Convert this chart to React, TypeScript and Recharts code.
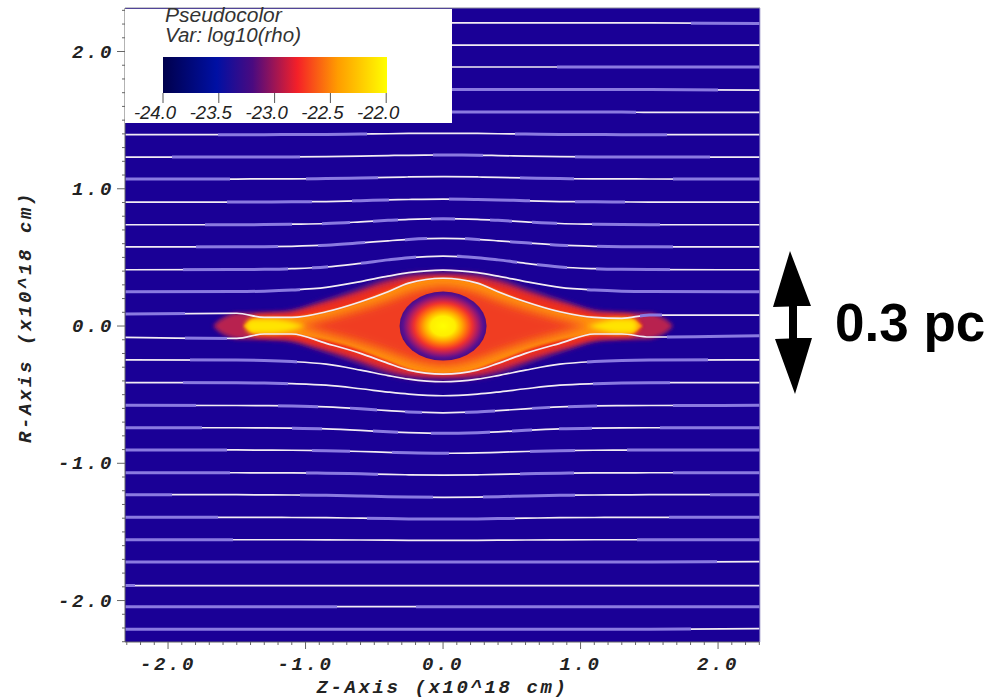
import { ComposedChart, Area, Line, Scatter, XAxis, YAxis, CartesianGrid } from 'recharts'

const W = 997
const H = 699
const PLOT = { left: 125, right: 760, top: 8, bottom: 642 }
const Z_DOMAIN = [-2.313, 2.305]
const R_DOMAIN = [-2.302, 2.317]

const majorTicks = [-2, -1, 0, 1, 2]
const allTicks = [
  -2.3, -2.2, -2.1, -2, -1.9, -1.8, -1.7, -1.6, -1.5, -1.4, -1.3, -1.2, -1.1, -1, -0.9, -0.8, -0.7, -0.6, -0.5, -0.4, -0.3, -0.2, -0.1,
  0, 0.1, 0.2, 0.3, 0.4, 0.5, 0.6, 0.7, 0.8, 0.9, 1, 1.1, 1.2, 1.3, 1.4, 1.5, 1.6, 1.7, 1.8, 1.9, 2, 2.1, 2.2, 2.3,
]

// field lines, R read at each z of zGrid
const zGrid = [-2.31, -1.5, -1.3, -1.1, -0.85, -0.6, -0.4, -0.25, 0, 0.25, 0.4, 0.6, 0.85, 1.1, 1.3, 1.5, 2.3]
const line01 = [2.208, 2.208, 2.208, 2.208, 2.208, 2.208, 2.208, 2.208, 2.208, 2.208, 2.208, 2.208, 2.208, 2.208, 2.208, 2.208, 2.204]
const line02 = [2.047, 2.047, 2.047, 2.047, 2.047, 2.047, 2.047, 2.047, 2.047, 2.047, 2.047, 2.047, 2.047, 2.047, 2.047, 2.047, 2.047]
const line03 = [1.887, 1.887, 1.887, 1.887, 1.887, 1.887, 1.887, 1.887, 1.887, 1.887, 1.887, 1.887, 1.887, 1.887, 1.887, 1.887, 1.887]
const line04 = [1.723, 1.723, 1.723, 1.723, 1.723, 1.723, 1.723, 1.723, 1.723, 1.723, 1.723, 1.723, 1.723, 1.723, 1.723, 1.723, 1.718]
const line05 = [1.559, 1.559, 1.559, 1.559, 1.559, 1.559, 1.559, 1.559, 1.559, 1.559, 1.559, 1.559, 1.559, 1.559, 1.559, 1.556, 1.556]
const line06 = [1.394, 1.394, 1.394, 1.395, 1.396, 1.399, 1.401, 1.403, 1.404, 1.403, 1.401, 1.399, 1.396, 1.395, 1.394, 1.394, 1.394]
const line07 = [1.231, 1.231, 1.231, 1.232, 1.234, 1.238, 1.242, 1.244, 1.246, 1.244, 1.242, 1.238, 1.234, 1.232, 1.231, 1.231, 1.231]
const line08 = [1.071, 1.071, 1.072, 1.072, 1.074, 1.079, 1.083, 1.086, 1.088, 1.086, 1.083, 1.079, 1.074, 1.072, 1.072, 1.071, 1.071]
const line09 = [0.903, 0.903, 0.904, 0.905, 0.907, 0.913, 0.919, 0.922, 0.925, 0.922, 0.919, 0.913, 0.907, 0.905, 0.904, 0.903, 0.903]
const line10 = [0.738, 0.738, 0.739, 0.742, 0.747, 0.759, 0.77, 0.777, 0.782, 0.777, 0.77, 0.759, 0.747, 0.742, 0.739, 0.738, 0.738]
const line11 = [0.576, 0.577, 0.578, 0.581, 0.589, 0.606, 0.621, 0.631, 0.639, 0.631, 0.621, 0.606, 0.589, 0.581, 0.578, 0.577, 0.576]
const line12 = [0.41, 0.411, 0.413, 0.418, 0.43, 0.457, 0.482, 0.498, 0.51, 0.498, 0.482, 0.457, 0.43, 0.418, 0.413, 0.411, 0.41]
const line13 = [0.249, 0.251, 0.254, 0.262, 0.281, 0.324, 0.363, 0.389, 0.408, 0.389, 0.363, 0.324, 0.281, 0.262, 0.254, 0.251, 0.249]
const line14 = [0.087, 0.093, 0.063, 0.063, 0.104, 0.177, 0.25, 0.313, 0.348, 0.313, 0.25, 0.177, 0.104, 0.063, 0.056, 0.08, 0.08]
const line15 = [-0.082, -0.09, -0.058, -0.058, -0.126, -0.199, -0.272, -0.321, -0.35, -0.321, -0.272, -0.199, -0.126, -0.058, -0.058, -0.08, -0.071]
const line16 = [-0.246, -0.248, -0.251, -0.259, -0.278, -0.321, -0.361, -0.387, -0.406, -0.387, -0.361, -0.321, -0.278, -0.259, -0.251, -0.248, -0.246]
const line17 = [-0.412, -0.413, -0.415, -0.42, -0.431, -0.457, -0.481, -0.496, -0.508, -0.496, -0.481, -0.457, -0.431, -0.42, -0.415, -0.413, -0.412]
const line18 = [-0.578, -0.579, -0.58, -0.582, -0.589, -0.603, -0.617, -0.626, -0.632, -0.626, -0.617, -0.603, -0.589, -0.582, -0.58, -0.579, -0.578]
const line19 = [-0.741, -0.741, -0.742, -0.744, -0.749, -0.76, -0.771, -0.777, -0.782, -0.777, -0.771, -0.76, -0.749, -0.744, -0.742, -0.741, -0.741]
const line20 = [-0.903, -0.903, -0.904, -0.905, -0.908, -0.914, -0.92, -0.924, -0.927, -0.924, -0.92, -0.914, -0.908, -0.905, -0.904, -0.903, -0.903]
const line21 = [-1.069, -1.069, -1.07, -1.07, -1.072, -1.077, -1.081, -1.084, -1.086, -1.084, -1.081, -1.077, -1.072, -1.07, -1.07, -1.069, -1.069]
const line22 = [-1.229, -1.229, -1.23, -1.231, -1.233, -1.238, -1.243, -1.246, -1.248, -1.246, -1.243, -1.238, -1.233, -1.231, -1.23, -1.229, -1.229]
const line23 = [-1.394, -1.394, -1.394, -1.395, -1.396, -1.4, -1.403, -1.405, -1.406, -1.405, -1.403, -1.4, -1.396, -1.395, -1.394, -1.394, -1.394]
const line24 = [-1.557, -1.557, -1.557, -1.557, -1.558, -1.559, -1.56, -1.561, -1.561, -1.561, -1.56, -1.559, -1.558, -1.557, -1.557, -1.557, -1.557]
const line25 = [-1.72, -1.72, -1.72, -1.72, -1.72, -1.72, -1.72, -1.72, -1.72, -1.72, -1.72, -1.72, -1.72, -1.72, -1.72, -1.72, -1.716]
const line26 = [-1.891, -1.891, -1.891, -1.891, -1.891, -1.891, -1.891, -1.891, -1.891, -1.891, -1.891, -1.891, -1.891, -1.891, -1.891, -1.891, -1.891]
const line27 = [-2.045, -2.045, -2.045, -2.045, -2.045, -2.045, -2.045, -2.045, -2.045, -2.045, -2.045, -2.045, -2.045, -2.045, -2.045, -2.045, -2.045]
const line28 = [-2.21, -2.21, -2.21, -2.21, -2.21, -2.21, -2.21, -2.21, -2.21, -2.21, -2.21, -2.21, -2.21, -2.21, -2.21, -2.21, -2.204]

const fieldLines = [
  line01, line02, line03, line04, line05, line06, line07, line08, line09, line10, line11, line12, line13, line14,
  line15, line16, line17, line18, line19, line20, line21, line22, line23, line24, line25, line26, line27, line28,
]

// stretches of each line that show white, the rest is lilac
const whiteSpans = [
  [[-2.31, 1.8]],
  [[-2.31, 2.31]],
  [[-2.31, 0.83]],
  [[2.0, 2.31]],
  [[1.4, 2.31]],
  [[-2.31, -1.64], [-0.55, 0.52], [1.63, 2.31]],
  [[-2.31, -1.97], [-1.04, -0.07], [0.29, 0.96], [1.94, 2.31]],
  [[-1.55, -1.0], [-0.47, 0.56], [0.95, 1.67]],
  [[-2.31, -1.57], [-0.95, -0.66], [-0.39, 0.04], [0.63, 0.96], [1.32, 2.31]],
  [[-2.31, -1.73], [-1.1, -0.88], [-0.68, -0.51], [-0.33, -0.09], [0.09, 0.34], [0.5, 0.65], [0.83, 1.08], [1.58, 2.31]],
  [[-2.31, -1.8], [-1.2, -0.91], [-0.57, -0.28], [-0.12, 0.16], [0.27, 0.49], [0.65, 0.78], [0.91, 1.12], [1.67, 2.31]],
  [[-2.31, -1.89], [-1.13, -0.95], [-0.84, -0.6], [-0.2, 0.1], [0.54, 0.68], [0.9, 1.11], [1.65, 2.31]],
  [[-1.04, 1.05]],
  [[-1.88, 1.43], [1.59, 2.31]],
  [[-2.31, -1.88], [-1.57, 1.63]],
  [[-2.31, -1.84], [-1.06, 1.05], [1.93, 2.31]],
  [[-2.31, -1.89], [-1.13, 1.09], [1.65, 2.31]],
  [[-1.8, -1.2], [-0.91, -0.68], [-0.48, -0.28], [-0.15, 0.16], [0.38, 0.65], [0.78, 0.91], [1.12, 1.67]],
  [[-1.75, -1.1], [-0.88, -0.51], [-0.33, -0.09], [0.34, 0.5], [0.65, 0.84], [1.08, 1.58]],
  [[-1.57, -0.95], [-0.68, -0.37], [0.04, 0.63], [0.96, 1.34]],
  [[-1.55, -1.0], [-0.47, 0.56], [0.95, 1.67]],
  [[-1.97, -1.04], [-0.07, 0.29], [0.96, 1.94]],
  [[-1.64, -0.55], [0.52, 1.64]],
  [[-1.53, 1.41]],
  [[1.99, 2.31]],
  [[-2.24, 2.31]],
  [[-0.77, -0.2]],
  [[1.8, 2.31]],
]

// density layers, half height in R read at each z
const shellZ = [-1.67, -1.64, -1.58, -1.5, -1.35, -1.15, -0.9, -0.65, -0.4, -0.2, 0, 0.2, 0.4, 0.65, 0.9, 1.15, 1.35, 1.5, 1.58, 1.64, 1.67]
const violetHalf = [0, 0.036, 0.073, 0.098, 0.102, 0.117, 0.189, 0.277, 0.364, 0.401, 0.408, 0.401, 0.364, 0.277, 0.189, 0.117, 0.102, 0.098, 0.073, 0.036, 0]
const crimsonHalf = [0, 0.029, 0.066, 0.091, 0.095, 0.102, 0.168, 0.248, 0.335, 0.372, 0.379, 0.372, 0.335, 0.248, 0.168, 0.102, 0.095, 0.091, 0.066, 0.029, 0]
const coreZ = [-1.45, -1.35, -1.15, -0.9, -0.65, -0.4, -0.2, 0, 0.2, 0.4, 0.65, 0.9, 1.15, 1.35, 1.45]
const redHalf = [0, 0.08, 0.087, 0.146, 0.219, 0.299, 0.343, 0.357, 0.343, 0.299, 0.219, 0.146, 0.087, 0.08, 0]
const orangeHalf = [0, 0.058, 0.062, 0.095, 0.16, 0.255, 0.328, 0.35, 0.328, 0.255, 0.16, 0.095, 0.062, 0.058, 0]
const innerZ = [-1.05, -0.85, -0.65, -0.4, -0.2, 0, 0.2, 0.4, 0.65, 0.85, 1.05]
const innerHalf = [0, 0.05, 0.105, 0.185, 0.255, 0.285, 0.255, 0.185, 0.105, 0.05, 0]
const tailLeftZ = [-1.44, -1.4, -1.25, -1.1, -1.0]
const tailRightZ = [1.05, 1.15, 1.27, 1.38, 1.42]
const tailLeftHalf = [0, 0.05, 0.052, 0.03, 0]
const tailRightHalf = [0, 0.03, 0.052, 0.05, 0]

const toBand = (zs: number[], half: number[]) => zs.map((z, i) => ({ z, band: [-half[i], half[i]] }))
const shells = [
  { id: 'violet', data: toBand(shellZ, violetHalf), color: '#3c0c8c', blur: 'url(#blur2)' },
  { id: 'crimson', data: toBand(shellZ, crimsonHalf), color: '#b82050', blur: 'url(#blur2)' },
  { id: 'red', data: toBand(coreZ, redHalf), color: '#ee2e1c', blur: 'url(#blur2)' },
  { id: 'orange', data: toBand(coreZ, orangeHalf), color: '#ff9010', blur: 'url(#blur1)' },
  { id: 'inner', data: toBand(innerZ, innerHalf), color: '#f03c20', blur: 'url(#blur5)' },
  { id: 'tailL', data: toBand(tailLeftZ, tailLeftHalf), color: '#ffe400', blur: 'url(#blur3)' },
  { id: 'tailR', data: toBand(tailRightZ, tailRightHalf), color: '#ffe400', blur: 'url(#blur3)' },
]

const starPoint = [{ z: 0, r: 0 }]
const starStops: [number, string][] = [
  [0, '#ffff00'], [0.28, '#ffee00'], [0.42, '#ffb000'], [0.55, '#ff6a10'], [0.67, '#ee3030'], [0.8, '#a81a68'], [0.92, '#5a1090'], [1, '#4a0c84'],
]

const lineTable = zGrid.map((z, i) => {
  const row: Record<string, number> = { z }
  fieldLines.forEach((l, k) => { row[`l${k}`] = l[i] })
  return row
})

// pseudocolor key
const barLabels = ['-24.0', '-23.5', '-23.0', '-22.5', '-22.0']
const barStops: [number, string][] = [
  [0, '#00004c'], [0.24, '#0010a4'], [0.4, '#4a0a80'], [0.6, '#f42028'], [0.78, '#ff9c00'], [1, '#ffff00'],
]

const tickFont = { fontFamily: '"Liberation Mono"', fontWeight: 700, fontStyle: 'italic', fontSize: 19, letterSpacing: 2.6, fill: '#222' }

const offsetOf = (z: number) => (z - Z_DOMAIN[0]) / (Z_DOMAIN[1] - Z_DOMAIN[0])

function SpanGradient({ id, spans, color, inverted }: { id: string; spans: number[][]; color: string; inverted: boolean }) {
  const off = inverted ? 1 : 0
  const on = inverted ? 0 : 1
  const stops: { o: number; a: number }[] = [{ o: 0, a: off }]
  spans.forEach(([a, b]) => {
    stops.push({ o: offsetOf(a), a: off }, { o: offsetOf(a), a: on }, { o: offsetOf(b), a: on }, { o: offsetOf(b), a: off })
  })
  stops.push({ o: 1, a: off })
  return (
    <linearGradient id={id} gradientUnits="userSpaceOnUse" x1={PLOT.left} x2={PLOT.right} y1={0} y2={0}>
      {stops.map((s, i) => (
        <stop key={i} offset={Math.min(1, Math.max(0, s.o))} stopColor={color} stopOpacity={s.a} />
      ))}
    </linearGradient>
  )
}

const XTick = ({ x, payload }: any) => {
  const major = majorTicks.includes(payload.value)
  return (
    <g>
      <line x1={x} x2={x} y1={PLOT.bottom} y2={PLOT.bottom + (major ? 7 : 3)} stroke="#666" />
      {major && <text x={x} y={670} textAnchor="middle" {...tickFont}>{payload.value.toFixed(1)}</text>}
    </g>
  )
}

const YTick = ({ y, payload }: any) => {
  const major = majorTicks.includes(payload.value)
  return (
    <g>
      <line x1={PLOT.left - (major ? 8 : 3)} x2={PLOT.left} y1={y} y2={y} stroke="#666" />
      {major && <text x={114} y={y + 6} textAnchor="end" {...tickFont}>{payload.value.toFixed(1)}</text>}
    </g>
  )
}

const StarShape = ({ cx, cy }: any) => <ellipse cx={cx} cy={cy} rx={43.5} ry={34.5} fill="url(#star)" />

export default function App() {
  return (
    <div style={{ position: 'absolute', left: 0, top: 0, width: W, height: H, background: '#fff', overflow: 'hidden' }}>
      <ComposedChart
        width={W}
        height={H}
        data={lineTable}
        margin={{ top: PLOT.top, right: W - PLOT.right, bottom: 0, left: 0 }}
      >
        <defs>
          <filter id="blur1" x="-10%" y="-30%" width="120%" height="160%"><feGaussianBlur stdDeviation="1" /></filter>
          <filter id="blur2" x="-10%" y="-30%" width="120%" height="160%"><feGaussianBlur stdDeviation="2" /></filter>
          <filter id="blur3" x="-30%" y="-60%" width="160%" height="220%"><feGaussianBlur stdDeviation="2.5" /></filter>
          <filter id="blur5" x="-20%" y="-40%" width="140%" height="180%"><feGaussianBlur stdDeviation="5" /></filter>
          <radialGradient id="star">
            {starStops.map(([o, c]) => <stop key={o} offset={o} stopColor={c} />)}
          </radialGradient>
          {whiteSpans.map((spans, i) => (
            <SpanGradient key={`w${i}`} id={`white${i}`} spans={spans} color="#f2ecf4" inverted={false} />
          ))}
          {whiteSpans.map((spans, i) => (
            <SpanGradient key={`p${i}`} id={`lilac${i}`} spans={spans} color="#8a7ae0" inverted />
          ))}
        </defs>
        <CartesianGrid horizontal={false} vertical={false} fill="#1a0096" fillOpacity={1} stroke="none" />
        <XAxis
          dataKey="z"
          type="number"
          domain={Z_DOMAIN}
          allowDataOverflow
          ticks={allTicks}
          interval={0}
          height={H - PLOT.bottom}
          tick={<XTick />}
          tickLine={false}
          tickSize={0}
          stroke="#666"
          label={{ value: 'Z-Axis (x10^18 cm)', position: 'insideBottom', offset: 6, ...tickFont }}
        />
        <YAxis
          dataKey="r"
          type="number"
          domain={R_DOMAIN}
          allowDataOverflow
          ticks={allTicks}
          interval={0}
          width={PLOT.left}
          tick={<YTick />}
          tickLine={false}
          tickSize={0}
          stroke="#666"
          label={{ value: 'R-Axis (x10^18 cm)', angle: -90, position: 'insideLeft', offset: 24, dy: 118, ...tickFont }}
        />
        {shells.map(s => (
          <Area
            key={s.id}
            data={s.data}
            dataKey="band"
            type="monotone"
            fill={s.color}
            fillOpacity={1}
            stroke="none"
            filter={s.blur}
            dot={false}
            activeDot={false}
            isAnimationActive={false}
          />
        ))}
        <Scatter data={starPoint} dataKey="r" shape={<StarShape />} isAnimationActive={false} />
        {fieldLines.map((_, i) => (
          <Line key={`lp${i}`} dataKey={`l${i}`} type="monotone" stroke={`url(#lilac${i})`} strokeWidth={3} dot={false} activeDot={false} isAnimationActive={false} />
        ))}
        {fieldLines.map((_, i) => (
          <Line key={`lw${i}`} dataKey={`l${i}`} type="monotone" stroke={`url(#white${i})`} strokeWidth={1.7} dot={false} activeDot={false} isAnimationActive={false} />
        ))}
      </ComposedChart>

      <svg width={W} height={H} style={{ position: 'absolute', left: 0, top: 0, pointerEvents: 'none' }}>
        <defs>
          <linearGradient id="bar">
            {barStops.map(([o, c]) => <stop key={o} offset={o} stopColor={c} />)}
          </linearGradient>
        </defs>
        <line x1={PLOT.left} x2={PLOT.right} y1={PLOT.top} y2={PLOT.top} stroke="#8a8a9a" />
        <line x1={PLOT.right} x2={PLOT.right} y1={PLOT.top} y2={PLOT.bottom} stroke="#b8b4d8" />
        <rect x={PLOT.left} y={PLOT.top + 1} width={327} height={114} fill="#fff" />
        <text x={165} y={22} fontFamily='"Liberation Sans"' fontStyle="italic" fontSize={21} fill="#333">Pseudocolor</text>
        <text x={165} y={42} fontFamily='"Liberation Sans"' fontStyle="italic" fontSize={20.5} fill="#333">Var: log10(rho)</text>
        <rect x={163} y={57} width={224} height={36} fill="url(#bar)" />
        {barLabels.map((t, i) => (
          <g key={t}>
            <line x1={163 + i * 55.8} x2={163 + i * 55.8} y1={93} y2={103} stroke="#555" />
            <text x={155 + i * 55.8} y={119} textAnchor="middle" fontFamily='"Liberation Sans"' fontStyle="italic" fontSize={18.5} fill="#222">{t}</text>
          </g>
        ))}
        <polygon
          points="790,251 773,307 789,306.5 789,338.5 775,339 795,394 812,338 797,338 797,306 811,306"
          fill="#000"
        />
        <text x={835} y={341} fontFamily='"Liberation Sans"' fontWeight={700} fontSize={53} fill="#000">0.3 pc</text>
      </svg>
    </div>
  )
}
